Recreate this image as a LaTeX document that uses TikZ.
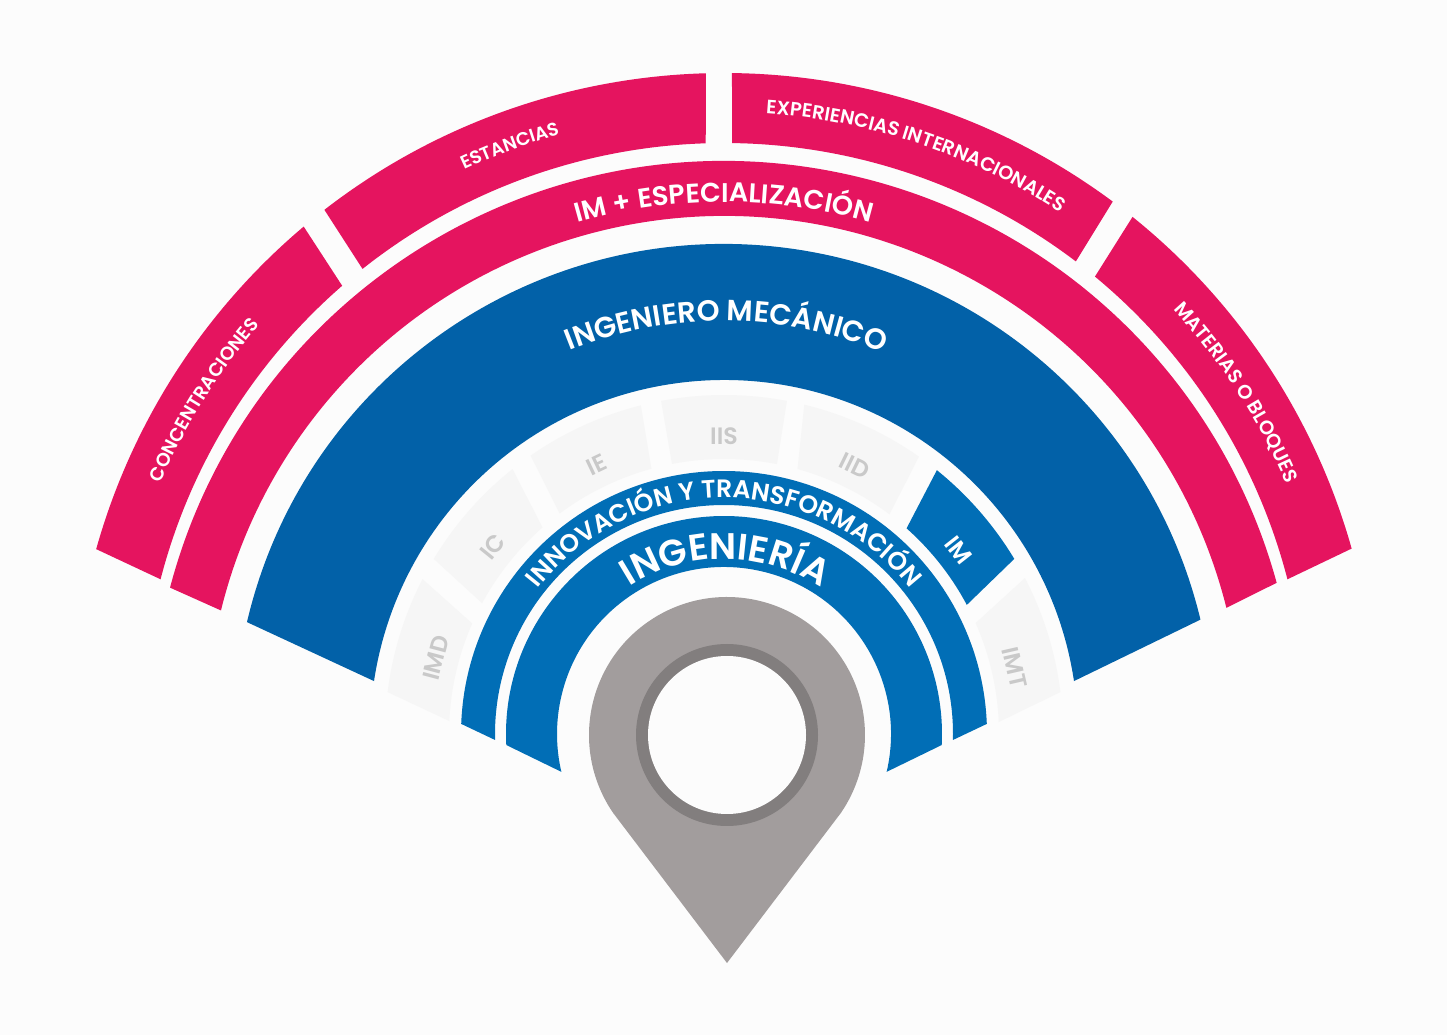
\documentclass[tikz,border=0pt]{standalone}
\usepackage{fontspec}
\setmainfont{Poppins}[BoldFont={* SemiBold}]
\usetikzlibrary{decorations.text}
\definecolor{pagebg}{HTML}{FCFCFC}
\definecolor{pinkband}{HTML}{E5145F}
\definecolor{deepblue}{HTML}{0261A8}
\definecolor{midblue}{HTML}{016EB6}
\definecolor{tilegray}{HTML}{F6F6F6}
\definecolor{tiletext}{HTML}{C9C9C9}
\definecolor{pingray}{HTML}{A29D9D}
\definecolor{pinring}{HTML}{827E7E}
\tikzset{
  tilelbl/.style={font=\fontsize{13.5}{13.5}\selectfont\bfseries, inner sep=0pt}
}

\begin{document}
\begin{tikzpicture}[x=0.02cm, y=0.02cm]
    % --- Setup Definitions ---
    % band: colour, outer r, inner r, outer angles, inner angles
    \def\band#1#2#3#4#5#6#7{\fill[#1] (#4:#2) arc (#4:#5:#2) -- (#7:#3) arc (#7:#6:#3) -- cycle;}
    % bandtext: baseline r, start angle, end angle, font size, text
    \def\bandtext#1#2#3#4#5{\path[decorate, decoration={text along path, text align=center,
        text={|\fontsize{#4}{#4}\selectfont\bfseries\color{white}|#5}}] (#2:#1) arc (#2:#3:#1);}

    % --- Page ---
    \useasboundingbox (0,0) rectangle (1447,1035);
    \fill[pagebg] (0,0) rectangle (1447,1035);

    % --- Outer Pink Segments ---
    \begin{scope}[shift={(724,310)}]
        \band{pinkband}{652}{582}{164.35}{130.14}{165.5}{131.0}
        \band{pinkband}{652}{582}{127.8}{91.6}{128.4}{91.8}
        \band{pinkband}{652}{582}{89.3}{53.4}{89.2}{52.8}
        \band{pinkband}{652}{582}{51.2}{15.7}{50.4}{14.5}
        \bandtext{613}{178}{118}{10.7}{CONCENTRACIONES}
        \bandtext{613}{140.3}{80.3}{10.5}{ESTANCIAS}
        \bandtext{613}{101.4}{41.4}{11}{EXPERIENCIAS INTERNACIONALES}
        \bandtext{612}{63}{3}{11.1}{MATERIAS O BLOQUES}
    \end{scope}

    % --- Concentric Bands ---
    \begin{scope}[shift={(724,301)}]
        \band{pinkband}{573}{518}{165.2}{15.3}{166.2}{14.1}
        \band{deepblue}{490}{354}{166.8}{13.5}{171.4}{8.6}
        \band{midblue}{263}{229}{177.8}{2.2}{181.5}{-1.5}
        \band{midblue}{218}{167}{182.9}{-2.9}{193.1}{-13.1}
        \bandtext{532}{125}{55}{15.4}{IM + ESPECIALIZACIÓN}
        \bandtext{413}{129.7}{49.7}{16.6}{INGENIERO MECÁNICO}
        \bandtext{236}{170}{10}{14.3}{INNOVACIÓN Y TRANSFORMACIÓN}
        \bandtext{175}{169.5}{9.5}{21}{INGENIERÍA}

        % --- Tiles ---
        \foreach \ao/\bo/\ai/\bi/\ang/\lab/\fillc/\textc in {
            172.9/152.8/177.3/156.3/165.2/IMD/tilegray/tiletext,
            148.9/128.6/151.6/131.3/141/IC/tilegray/tiletext,
            124.8/104.2/126.7/105.3/115.4/IE/tilegray/tiletext,
            100.7/79.3/100.9/78.9/90/IIS/tilegray/tiletext,
            76.3/54.9/74.5/53/64/IID/tilegray/tiletext,
            51.1/31.1/48.4/28/38.1/IM/midblue/white,
            27.4/7.1/23.8/2.5/12.9/IMT/tilegray/tiletext}{
            \band{\fillc}{339}{275}{\ao}{\bo}{\ai}{\bi}
            \node[tilelbl, text=\textc, rotate=\ang-90] (tile\lab) at (\ang:298) {\lab};
        }
    \end{scope}

    % --- Pin ---
    \begin{scope}[shift={(727,300)}]
        \fill[pingray] (0,-228) -- (214.4:138) arc (214.4:-34.4:138) -- cycle;
        \fill[pinring] (0,0) circle (91);
        \fill[pagebg] (0,0) circle (79);
    \end{scope}
\end{tikzpicture}
\end{document}
